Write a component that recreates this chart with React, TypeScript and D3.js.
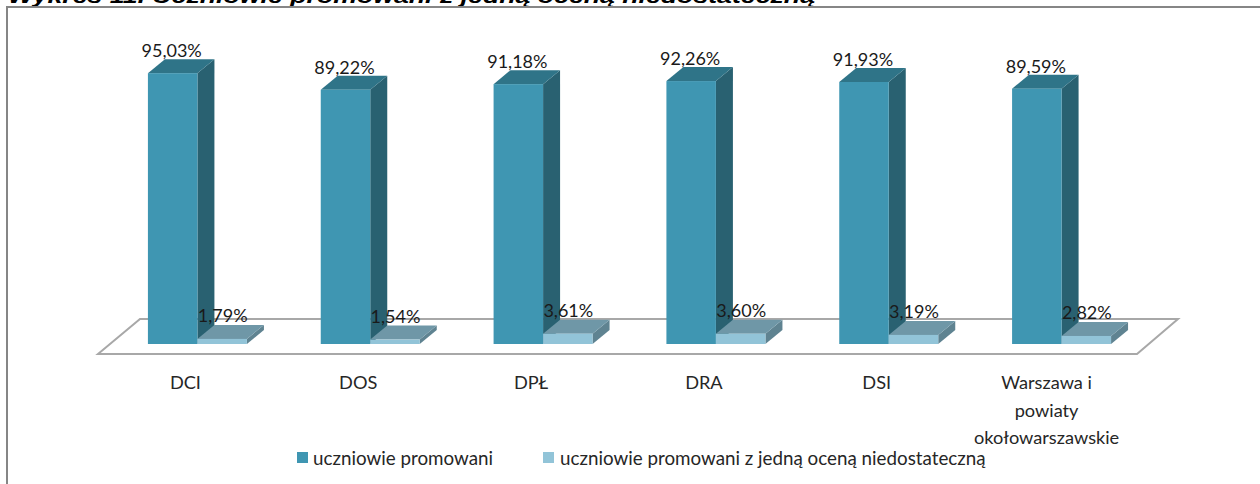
import React from "react";
import * as d3 from "d3";

const categories = ["DCI", "DOS", "DPŁ", "DRA", "DSI", "Warszawa i|powiaty|okołowarszawskie"];
const promoted = [95.03, 89.22, 91.18, 92.26, 91.93, 89.59];
const promotedOne = [1.79, 1.54, 3.61, 3.6, 3.19, 2.82];
const seriesNames = ["uczniowie promowani", "uczniowie promowani z jedną oceną niedostateczną"];
const titleText = "Wykres 11. Uczniowie promowani z jedną oceną niedostateczną";

const FONT = "Lato, 'Open Sans', sans-serif";
const DX = 17;
const DY = -14;
const colorsA = { front: "#3f96b2", top: "#2f7488", side: "#296171" };
const colorsB = { front: "#92c4d8", top: "#6f97a7", side: "#5f8391" };

const x = d3.scaleBand<number>().domain(d3.range(6)).range([111, 1148]).paddingInner(0);
const y = d3.scaleLinear().domain([0, 100]).range([344, 59]);

function Bar({ x0, w, v, c }: { x0: number; w: number; v: number; c: typeof colorsA }) {
  const b = y(0);
  const t = y(v);
  const poly = (pts: number[][]) => pts.map((p) => p.join(",")).join(" ");
  return (
    <g>
      <polygon fill={c.side} points={poly([[x0 + w, t], [x0 + w + DX, t + DY], [x0 + w + DX, b + DY], [x0 + w, b]])} />
      <polygon fill={c.top} points={poly([[x0, t], [x0 + DX, t + DY], [x0 + w + DX, t + DY], [x0 + w, t]])} />
      <rect x={x0} y={t} width={w} height={b - t} fill={c.front} />
    </g>
  );
}

export default function App() {
  const bw = 49.5;
  return (
    <svg width={1260} height={484} style={{ position: "absolute", left: 0, top: 0, background: "#fff" }}>
      <text x={8} y={3} fontFamily="'Liberation Sans', Arial, sans-serif" fontSize={20} fontWeight="bold" fontStyle="italic" fill="#000" textLength={807} lengthAdjust="spacingAndGlyphs">
        {titleText}
      </text>
      <path d="M7,484V7H1260" fill="none" stroke="#868686" strokeWidth={2} />
      <polygon points="98,354 140,319 1178,319 1137,354" fill="#fff" stroke="#a8a8a8" strokeWidth={2} />
      {categories.map((cat, i) => {
        const cx = x(i)! + x.bandwidth() / 2;
        const xa = cx - bw;
        const lines = cat.split("|");
        return (
          <g key={cat}>
            <Bar x0={xa} w={bw} v={promoted[i]} c={colorsA} />
            <Bar x0={cx} w={bw} v={promotedOne[i]} c={colorsB} />
            <text x={xa + bw / 2 - 1} y={y(promoted[i]) + DY - 2} textAnchor="middle" fontFamily={FONT} fontSize={18} fill="#1a1a1a">
              {promoted[i].toFixed(2).replace(".", ",") + "%"}
            </text>
            <text x={cx + bw / 2 + 0.5} y={y(promotedOne[i]) + DY - 3} textAnchor="middle" fontFamily={FONT} fontSize={18} fill="#1a1a1a">
              {promotedOne[i].toFixed(2).replace(".", ",") + "%"}
            </text>
            {lines.map((l, k) => (
              <text key={k} x={cx + (lines.length > 1 ? -15 : -12)} y={389 + k * 27.5} textAnchor="middle" fontFamily={FONT} fontSize={18.2} fill="#262626">
                {l}
              </text>
            ))}
          </g>
        );
      })}
      <rect x={297} y={452} width={11} height={11} fill={colorsA.front} />
      <text x={313} y={465} fontFamily={FONT} fontSize={18.8} fill="#262626">{seriesNames[0]}</text>
      <rect x={543} y={452} width={11} height={11} fill={colorsB.front} />
      <text x={560} y={465} fontFamily={FONT} fontSize={18.8} fill="#262626">{seriesNames[1]}</text>
    </svg>
  );
}
